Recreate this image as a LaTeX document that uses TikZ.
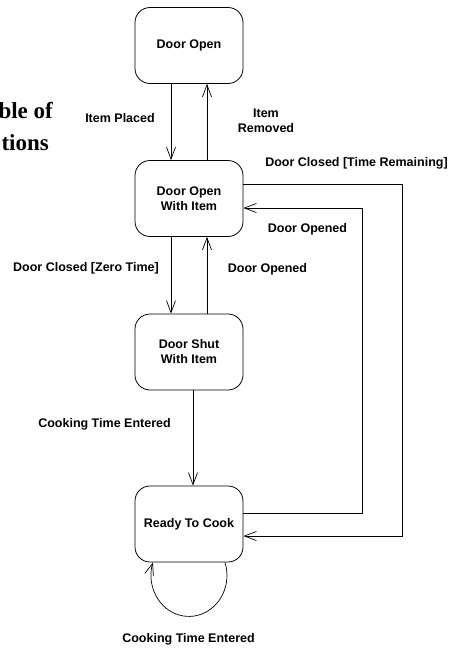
\documentclass[tikz,border=0pt]{standalone}
\usepackage{fontspec}
\setmainfont{Liberation Sans}
\newfontfamily\titleserif{Liberation Serif}
\usetikzlibrary{arrows.meta}
\begin{document}
\begin{tikzpicture}[x=1pt,y=-1pt,
  state/.style={draw=black,line width=0.8pt,rounded corners=15pt,
    minimum width=108pt,minimum height=76pt,inner sep=0pt,align=center,
    font=\fontsize{12.5}{15}\selectfont\bfseries},
  arr/.style={line width=0.7pt,-{Straight Barb[length=12pt,width=9pt,line width=0.7pt]}},
  lbl/.style={inner sep=0pt,align=center,font=\fontsize{12.5}{15}\selectfont\bfseries},
  ttl/.style={inner sep=0pt,anchor=base east,font=\fontsize{23}{28}\selectfont\titleserif\bfseries}]
\useasboundingbox (0,0) rectangle (449,648);

% partly visible heading at the left edge
\node[ttl] (t1) at (53,118) {ble of};
\node[ttl] (t2) at (49,150) {tions};

% states
\node[state] (dopen) at (189,45.5) {Door Open};
\node[state] (dowi)  at (189,198.5) {Door Open\\With Item};
\node[state] (dswi)  at (189,352) {Door Shut\\With Item};
\node[state] (rtc)   at (189,524) {Ready To Cook};

% transitions between the stacked states
\draw[arr] ([xshift=-18pt]dopen.south) -- ([xshift=-18pt]dowi.north);
\draw[arr] ([xshift=18pt]dowi.north) -- ([xshift=18pt]dopen.south);
\draw[arr] ([xshift=-18pt]dowi.south) -- ([xshift=-18pt]dswi.north);
\draw[arr] ([xshift=18pt]dswi.north) -- ([xshift=18pt]dowi.south);
\draw[arr] ([xshift=4pt]dswi.south) -- ([xshift=4pt]rtc.north);

% routed transitions on the right
\draw[arr] ([yshift=14.5pt]dowi.east) -- (402,184) -- (402,536) -- ([yshift=-12pt]rtc.east);
\draw[arr] ([yshift=11pt]rtc.east) -- (362,513) -- (362,208) -- ([yshift=-9.5pt]dowi.east);

% self transition
\draw[arr] ([xshift=36pt]rtc.south) arc[start angle=18.5,end angle=-198.5,x radius=38pt,y radius=41pt];

% labels
\node[lbl] (l1) at (120,118) {Item Placed};
\node[lbl] (l2) at (266,120.5) {Item\\Removed};
\node[lbl] (l3) at (356.5,163) {Door Closed [Time Remaining]};
\node[lbl] (l4) at (307.5,229) {Door Opened};
\node[lbl] (l5) at (86,268) {Door Closed [Zero Time]};
\node[lbl] (l6) at (267.5,269) {Door Opened};
\node[lbl] (l7) at (104.5,424) {Cooking Time Entered};
\node[lbl] (l8) at (188.5,639) {Cooking Time Entered};
\end{tikzpicture}
\end{document}
